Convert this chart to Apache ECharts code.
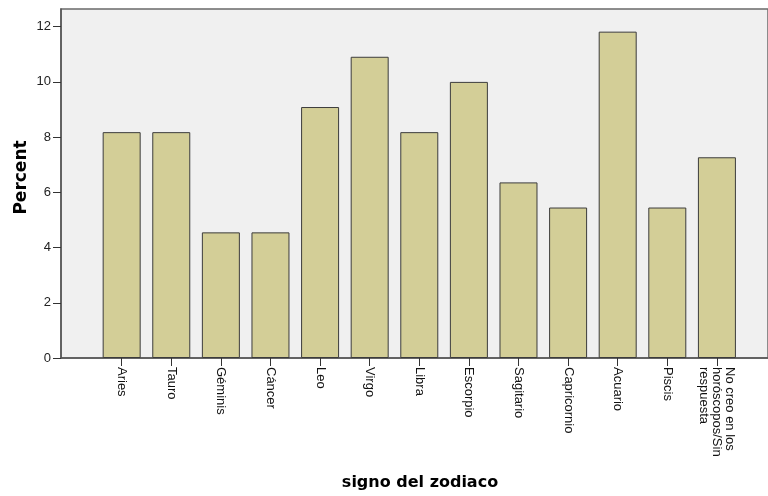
<!DOCTYPE html>
<html>
<head>
<meta charset="utf-8">
<script src="https://cdn.jsdelivr.net/npm/echarts@6/dist/echarts.min.js"></script>
<style>
html,body{margin:0;padding:0;background:#fff;}
#chart{width:768px;height:496px;}
</style>
</head>
<body>
<div id="chart"></div>
<script>
var categories = ["Aries","Tauro","Géminis","Cáncer","Leo","Virgo","Libra","Escorpio","Sagitario","Capricornio","Acuario","Piscis","No creo en los\nhoróscopos/Sin\nrespuesta"];
var percentValues = [8.18, 8.18, 4.55, 4.55, 9.09, 10.91, 8.18, 10.00, 6.36, 5.45, 11.82, 5.45, 7.27];
var yTicks = [0, 2, 4, 6, 8, 10, 12];
var xTitle = "signo del zodiaco";
var yTitle = "Percent";

var positions = categories.map(function(c, i){ return i; });
var barData = percentValues.map(function(v, i){ return [i, v]; });

var chart = echarts.init(document.getElementById('chart'), null, {renderer:'canvas'});
chart.setOption({
  animation: false,
  backgroundColor: '#ffffff',
  grid: {
    left: 61, top: 9, right: -2, bottom: 138,
    show: true,
    backgroundColor: '#f0f0f0',
    borderColor: '#6a6a6a',
    borderWidth: 1.5
  },
  xAxis: {
    type: 'value',
    min: -1.223,
    max: 13.03,
    name: xTitle,
    nameLocation: 'middle',
    nameGap: 117,
    nameMoveOverlap: false,
    nameTextStyle: {fontFamily: 'DejaVu Sans', fontWeight: 'bold', fontSize: 16, color: '#000', padding: [0,0,0,11]},
    axisLine: {show: true, onZero: false, lineStyle: {color: '#555555', width: 1.5}},
    axisTick: {show: true, length: 8, customValues: positions, lineStyle: {color: '#333333', width: 1}},
    axisLabel: {
      customValues: positions,
      rotate: -90,
      margin: 9,
      fontFamily: 'Liberation Sans, Arial',
      fontSize: 13,
      color: '#111',
      lineHeight: 13,
      formatter: function(v){ return categories[Math.round(v)] || ''; }
    },
    splitLine: {show: false}
  },
  yAxis: {
    type: 'value',
    min: 0,
    max: 12.64,
    name: yTitle,
    nameLocation: 'middle',
    nameGap: 31,
    nameRotate: 90,
    nameMoveOverlap: false,
    nameTextStyle: {fontFamily: 'DejaVu Sans', fontWeight: 'bold', fontSize: 17, color: '#000', padding: [0,0,0,12]},
    axisLine: {show: true, onZero: false, lineStyle: {color: '#555555', width: 1.5}},
    axisTick: {show: true, length: 8, customValues: yTicks, lineStyle: {color: '#333333', width: 1}},
    axisLabel: {
      customValues: yTicks,
      margin: 10,
      fontFamily: 'Liberation Sans, Arial',
      fontSize: 13,
      color: '#222'
    },
    splitLine: {show: false}
  },
  series: [{
    type: 'bar',
    data: barData,
    barWidth: 38,
    itemStyle: {color: '#d3ce97', borderColor: '#3c3c3c', borderWidth: 1},
    emphasis: {disabled: true}
  }]
});
</script>
</body>
</html>
